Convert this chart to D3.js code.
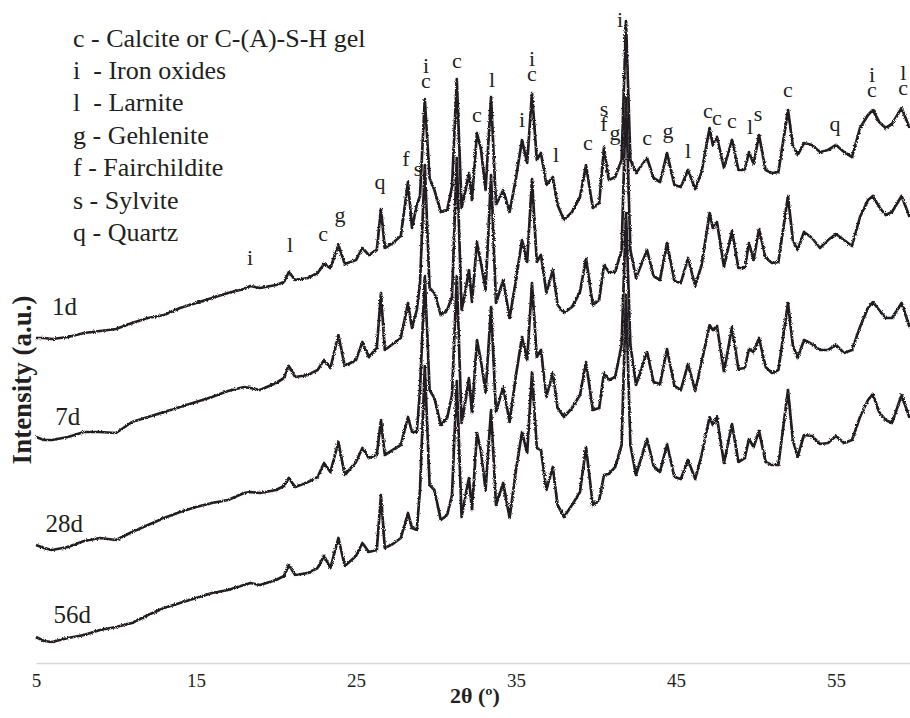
<!DOCTYPE html>
<html><head><meta charset="utf-8">
<script src="https://cdn.jsdelivr.net/npm/d3@7"></script>
<style>body{margin:0;background:#fff}svg{display:block}text{font-family:"Liberation Serif","Times New Roman",serif;fill:#231f20}</style>
</head><body>
<svg id="chart" width="910" height="718"></svg>
<script>
// 2θ grid (degrees)
const theta = [5,5.5,6,7,8,9,10,11,12,13,
14,15,16,17,18,18.4,19,20,20.5,20.8,
21.2,22,22.6,23,23.4,23.9,24.3,25,25.4,25.8,
26.3,26.56,26.8,27.3,27.8,28.25,28.5,28.8,29,29.3,
29.6,29.9,30.3,30.7,31,31.3,31.6,31.85,32.06,32.25,
32.56,32.8,33.1,33.44,33.75,34.2,34.6,35,35.375,35.7,
36,36.3,36.56,36.9,37.3,37.6,38,38.5,39,39.375,
39.8,40.2,40.5,40.8,41.2,41.6,41.875,42.15,42.5,43.19,
43.6,44,44.44,44.9,45.3,45.75,46.2,46.6,47.1,47.3,
47.56,48,48.5,48.9,49.3,49.56,49.85,50.19,50.6,51,
51.4,52,52.3,52.6,53,53.5,54,54.5,55,55.5,
56,56.5,57,57.3,57.7,58.1,58.5,59.1,59.6];

// Intensity (a.u., stacked)
const int1d = [324,324,323,325,329,331,333,339,344,347,
354,359,364,369,373,376,374,377,380,390,
382,384,389,398,394,417,398,402,414,407,
412,453,414,419,426,480,434,457,466,563,
484,472,450,452,475,583,454,472,489,462,
529,514,472,565,457,472,450,484,522,499,
569,502,509,477,485,457,442,450,465,497,
454,459,515,482,485,502,641,502,489,504,
484,480,509,477,475,492,473,490,534,517,
525,494,522,492,492,510,498,527,492,489,
490,552,517,507,519,517,510,512,517,510,
505,534,547,552,540,534,538,554,534];

const int7d = [225,222,222,225,230,230,229,240,245,250,
255,260,265,271,275,274,272,279,284,296,
285,287,292,302,294,327,296,302,320,305,
314,369,312,318,324,359,334,352,379,497,
374,369,347,352,365,504,352,372,392,360,
420,400,372,487,359,382,344,382,422,400,
483,400,407,369,392,357,349,355,370,404,
357,362,397,390,390,412,564,412,384,412,
386,382,419,381,379,404,376,397,449,434,
440,395,431,394,394,419,402,433,404,399,
400,466,422,412,430,424,414,422,428,422,
416,445,462,466,455,447,450,466,445];

const int28d = [117,114,112,115,121,124,122,130,137,144,
150,155,159,162,169,170,169,172,176,184,
175,180,185,199,190,220,187,200,214,204,
207,242,207,212,217,245,230,230,272,386,
272,264,237,244,267,386,239,262,284,249,
322,302,270,355,250,275,240,287,325,302,
379,305,312,265,289,254,245,254,267,300,
252,254,289,282,285,317,449,317,277,310,
280,278,313,276,272,298,271,300,337,332,
336,290,335,293,294,313,310,324,295,289,
292,359,317,304,322,318,312,312,317,309,
312,335,354,360,352,344,344,359,335];

const int56d = [25,21,20,24,27,32,35,39,47,54,
59,64,69,72,77,79,77,82,86,97,
87,89,94,106,94,124,96,106,119,110,
112,167,114,118,124,149,134,132,172,296,
177,172,142,147,167,281,145,167,184,152,
229,212,172,252,157,179,144,192,230,209,
290,214,212,172,195,157,145,157,170,215,
157,162,187,188,195,217,367,217,187,223,
196,190,218,185,183,202,183,207,245,237,
245,199,238,200,204,223,215,231,200,197,
197,272,222,205,227,226,218,219,226,219,
222,245,262,268,250,242,239,267,244];

const seriesNames = ["1d","7d","28d","56d"];
const seriesValues = [int1d,int7d,int28d,int56d];
const seriesLabelTheta = [6.0,6.2,5.6,6.1];
const seriesLabelLevel = [347,237,130,39];

const xTicks = [5,15,25,35,45,55];

// phase annotations: letters (stacked top→bottom), 2θ, level (a.u.) of the lowest letter
const peakText  = [["i"],["l"],["c"],["g"],["q"],["f"],["s"],["i","c"],["c"],["c"],["l"],["i"],["i","c"],["l"],["c"],["s","f"],["g"],["i"],["c"],["g"],["l"],["c"],["c"],["c"],["l"],["s"],["c"],["q"],["i","c"],["l","c"]];
const peakTheta = [18.375,20.875,22.94,24.0,26.5,28.125,28.875,29.375,31.31,32.56,33.5,35.375,36.0,37.5,39.5,40.5,41.19,41.5,43.19,44.5,45.75,47.0,47.56,48.5,49.625,50.125,52.0,54.94,57.25,59.2];
const peakLevel = [397,410,421,440,473,496,486,574,594,540,575,535,581,500,512,531,522,635,517,524,504,544,537,534,528,541,565,531,565,567];

const legendLines = ["c - Calcite or C-(A)-S-H gel","i  - Iron oxides","l  - Larnite","g - Gehlenite","f - Fairchildite","s - Sylvite","q - Quartz"];

const svg = d3.select("#chart");
const x = d3.scaleLinear().domain([5,60]).range([36,916]);
const y = d3.scaleLinear().domain([0,650]).range([662,12]);

// rough-detector look for the traces (pure rendering effect)
const defs = svg.append("defs");
const f = defs.append("filter").attr("id","rough").attr("x","-2%").attr("y","-5%").attr("width","104%").attr("height","110%");
f.append("feTurbulence").attr("type","fractalNoise").attr("baseFrequency","1.1 1.6").attr("numOctaves",1).attr("seed",5).attr("result","n");
f.append("feDisplacementMap").attr("in","SourceGraphic").attr("in2","n").attr("scale",3.2).attr("xChannelSelector","R").attr("yChannelSelector","G");

// axis
const axis = d3.axisBottom(x).tickValues(xTicks).tickSize(0).tickSizeOuter(0).tickPadding(10.5).tickFormat(d3.format("d"));
const gx = svg.append("g").attr("transform","translate(0,663)").call(axis);
gx.select(".domain").attr("stroke","#d9d9d9").attr("stroke-width",1.6);
gx.selectAll("text").attr("font-size",19).attr("font-family","Liberation Serif").attr("fill","#231f20");

svg.append("text").attr("x",475).attr("y",703).attr("text-anchor","middle")
  .attr("font-size",22).attr("font-weight","bold").text("2θ (º)");

svg.append("text").attr("transform","translate(31,380) rotate(-90)").attr("text-anchor","middle")
  .attr("font-size",27).attr("font-weight","bold").text("Intensity (a.u.)");

// curves
const line = d3.line().x((d,i)=>x(theta[i])).y(d=>y(d));
svg.append("g").attr("filter","url(#rough)").selectAll("path").data(seriesValues).join("path")
  .attr("d",d=>line(d)).attr("fill","none").attr("stroke","#231f20")
  .attr("stroke-width",2.7).attr("stroke-linejoin","round");

// curve names
svg.append("g").selectAll("text").data(seriesNames).join("text")
  .attr("x",(d,i)=>x(seriesLabelTheta[i])).attr("y",(d,i)=>y(seriesLabelLevel[i]))
  .attr("font-size",25).text(d=>d);

// peak letters
const gap = 15;
const pk = svg.append("g").selectAll("text").data(peakText).join("text")
  .attr("text-anchor","middle").attr("font-size",22)
  .attr("x",(d,i)=>x(peakTheta[i]))
  .attr("y",(d,i)=>y(peakLevel[i]) - gap*(d.length-1));
pk.each(function(d,i){
  const t = d3.select(this);
  d.forEach((ch,k)=>{
    t.append("tspan").attr("x",x(peakTheta[i])).attr("dy",k===0?0:gap).text(ch);
  });
});

// legend
svg.append("g").selectAll("text").data(legendLines).join("text")
  .attr("x",73).attr("y",(d,i)=>46.5+i*32.4).attr("font-size",26)
  .style("white-space","pre").text(d=>d);
</script>
</body></html>
